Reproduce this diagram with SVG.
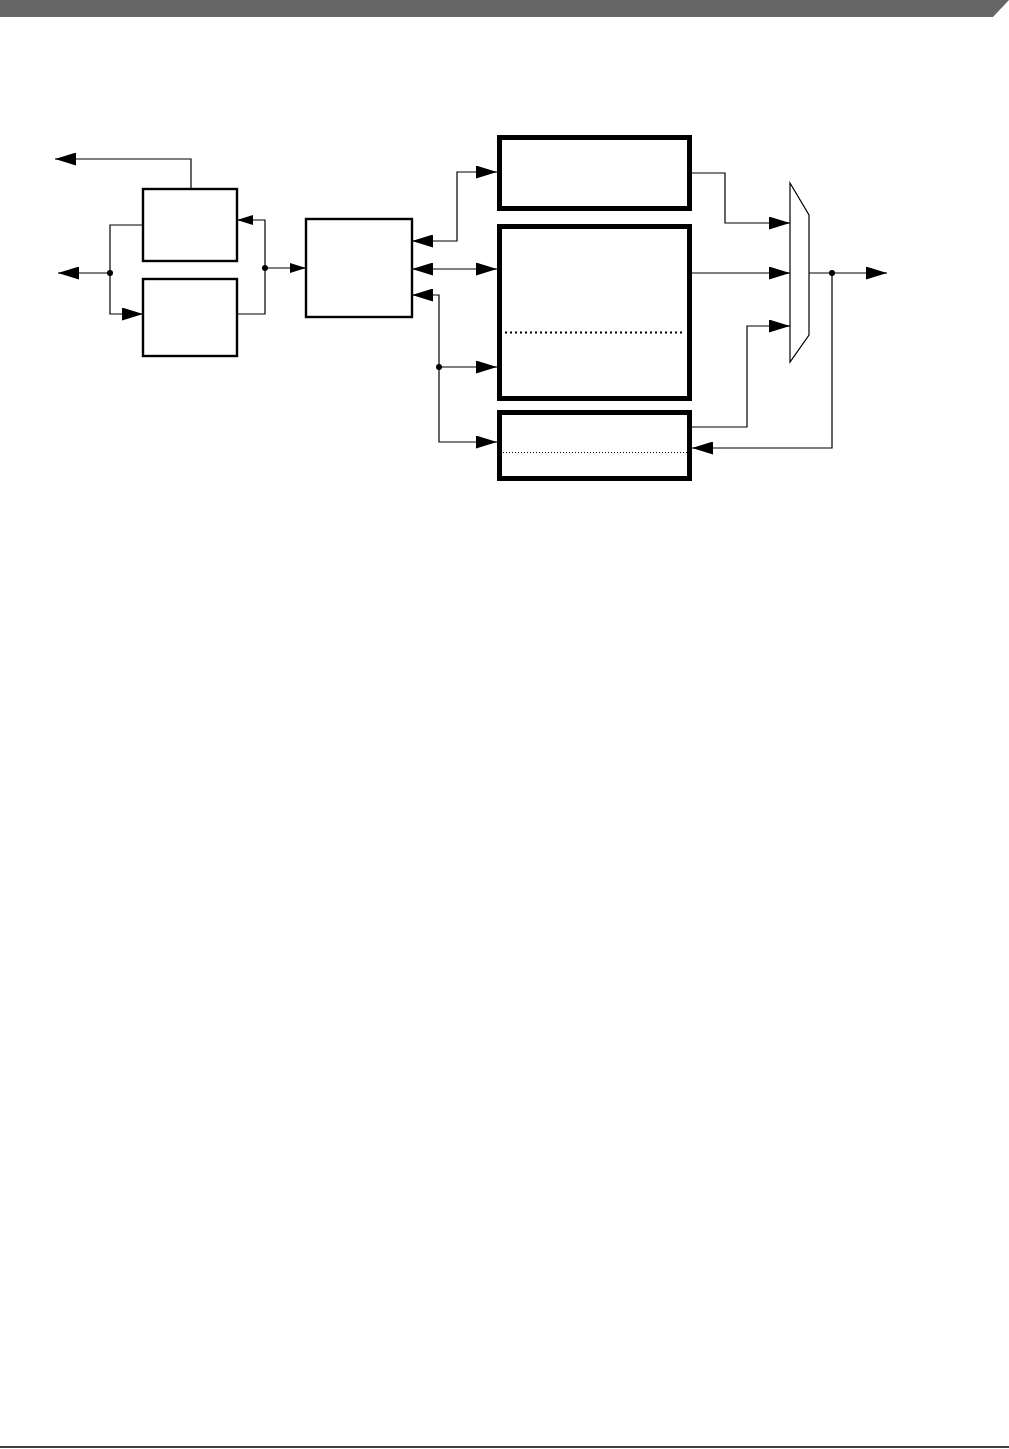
<svg xmlns="http://www.w3.org/2000/svg" width="1009" height="1449" viewBox="0 0 1009 1449">
<style>
.box{fill:#fff;stroke:#000;stroke-width:2.4}
.tbox{fill:#fff;stroke:#000;stroke-width:5}
.ln{fill:none;stroke:#000;stroke-width:1.2}
.dot{fill:#000}
</style>
<defs>
<marker id="big" viewBox="0 0 21 13" refX="21" refY="6.5" markerWidth="21" markerHeight="13" markerUnits="userSpaceOnUse" orient="auto-start-reverse"><path d="M0,0 L21,6.5 L0,13 z" fill="#000"/></marker>
<marker id="sm" viewBox="0 0 16 10" refX="16" refY="5" markerWidth="16" markerHeight="10" markerUnits="userSpaceOnUse" orient="auto-start-reverse"><path d="M0,0 L16,5 L0,10 z" fill="#000"/></marker>
</defs>
<rect width="1009" height="1449" fill="#fff"/>
<polygon points="0,0 1009,0 993,17 0,17" fill="#666"/>
<line x1="0" y1="1447" x2="1009" y2="1447" stroke="#000" stroke-width="1.6"/>
<g id="connectors">
<path class="ln" d="M191,189 V159 H55" marker-end="url(#big)"/>
<path class="ln" d="M110,273 H58" marker-end="url(#big)"/>
<path class="ln" d="M143,225 H110 V314 H143" marker-end="url(#big)"/>
<path class="ln" d="M237,314 H265 V220 H237" marker-end="url(#sm)"/>
<path class="ln" d="M265,268 H306" marker-end="url(#sm)"/>
<path class="ln" d="M412,241 H457 V172 H497" marker-start="url(#big)" marker-end="url(#big)"/>
<path class="ln" d="M412,269 H497" marker-start="url(#big)" marker-end="url(#big)"/>
<path class="ln" d="M412,295 H439 V442 H497" marker-start="url(#big)" marker-end="url(#big)"/>
<path class="ln" d="M439,367 H497" marker-end="url(#big)"/>
<path class="ln" d="M692,173 H725 V223 H790" marker-end="url(#big)"/>
<path class="ln" d="M692,273 H790" marker-end="url(#big)"/>
<path class="ln" d="M692,427 H747 V326 H790" marker-end="url(#big)"/>
<path class="ln" d="M809,273 H887" marker-end="url(#big)"/>
<path class="ln" d="M832,273 V448 H692" marker-end="url(#big)"/>
<circle class="dot" cx="110" cy="273" r="3"/>
<circle class="dot" cx="265" cy="268" r="3"/>
<circle class="dot" cx="439" cy="367" r="3"/>
<circle class="dot" cx="832" cy="273" r="3"/>
</g>
<g id="nodeA"><rect class="box" x="143" y="189" width="94" height="72"/></g>
<g id="nodeB"><rect class="box" x="143" y="279" width="94" height="77"/></g>
<g id="nodeC"><rect class="box" x="306" y="219" width="106" height="98"/></g>
<g id="nodeD"><rect class="tbox" x="499.5" y="137.5" width="190" height="71"/></g>
<g id="nodeE"><rect class="tbox" x="499.5" y="226.5" width="190" height="172"/>
<line x1="505" y1="332.5" x2="685" y2="332.5" stroke="#000" stroke-width="2" stroke-dasharray="2 3"/></g>
<g id="nodeF"><rect class="tbox" x="499.5" y="412.5" width="190" height="66"/>
<line x1="503" y1="452.5" x2="687" y2="452.5" stroke="#000" stroke-width="1" stroke-dasharray="1 2"/></g>
<g id="mux"><polygon points="790,183 809,215 809,335 790,362" fill="#fff" stroke="#000" stroke-width="1.2"/></g>
</svg>
